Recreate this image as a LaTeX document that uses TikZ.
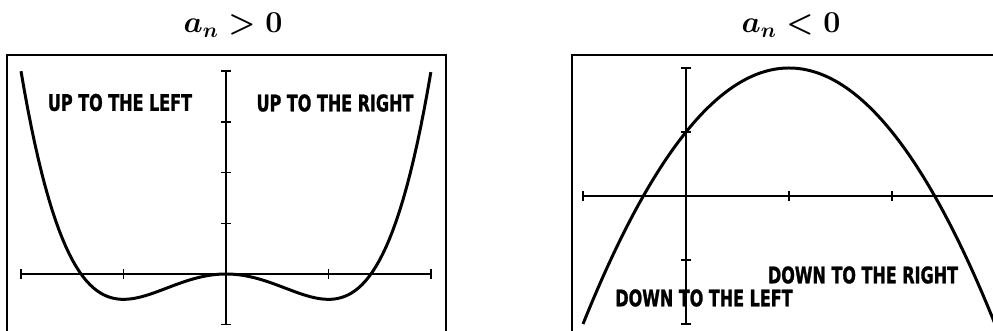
\documentclass[tikz,border=0pt]{standalone}
\usepackage{fontspec}
\newfontfamily\calcfont[FakeStretch=0.7, BoldFeatures={FakeBold=1.2}]{DejaVu Sans}

\begin{document}
\begin{tikzpicture}[
        screen/.style={draw, line width=0.6pt},
        axis/.style={draw, line width=0.8pt},
        graph/.style={draw, line width=1.7pt, line join=round},
        calc/.style={font=\calcfont\bfseries\fontsize{13}{14}\selectfont, inner sep=0pt},
        title/.style={font=\LARGE\boldmath, inner sep=0pt, anchor=base},
    ]
    \clip (0,0) rectangle (19.86,6.62);
    % screens
    \draw[screen] (0.14,-0.2) rectangle (8.92,5.52);
    \draw[screen] (11.44,-0.2) rectangle (20.2,5.52);
    % titles
    \node[title](pos) at (4.66,5.96){$a_n > 0$};
    \node[title](neg) at (15.82,5.96){$a_n < 0$};

    % left screen: a_n > 0
    \begin{scope}[shift={(4.52,1.14)}, x=2.05cm, y=1.014cm]
        \draw[axis] (-2,0) -- (2,0);
        \draw[axis] (0,-1) -- (0,4);
        \foreach \t in {-2,...,2}
            \draw[axis] (\t,0) ++(0,-0.1cm) -- ++(0,0.2cm);
        \foreach \t in {-1,...,4}
            \draw[axis] (0,\t) ++(-0.1cm,0) -- ++(0.2cm,0);
        \draw[graph] plot[domain=-2:2, samples=120] (\x, {0.5*(\x)^4-(\x)^2});
    \end{scope}
    \node[calc](upl) at (2.40,4.57){UP TO THE LEFT};
    \node[calc](upr) at (6.70,4.56){UP TO THE RIGHT};

    % right screen: a_n < 0
    \begin{scope}[shift={(13.72,2.70)}, x=2.06cm, y=1.28cm]
        \draw[axis] (-1,0) -- (3.2,0);
        \draw[axis] (0,-2) -- (0,2);
        \foreach \t in {-1,...,3}
            \draw[axis] (\t,0) ++(0,-0.1cm) -- ++(0,0.2cm);
        \foreach \t in {-2,...,2}
            \draw[axis] (0,\t) ++(-0.1cm,0) -- ++(0.2cm,0);
        \draw[graph] plot[domain=-1:3.1, samples=120] (\x, {2-(\x-1)^2});
    \end{scope}
    \node[calc](dnr) at (17.26,1.12){DOWN TO THE RIGHT};
    \node[calc](dnl) at (14.08,0.66){DOWN TO THE LEFT};
\end{tikzpicture}
\end{document}
